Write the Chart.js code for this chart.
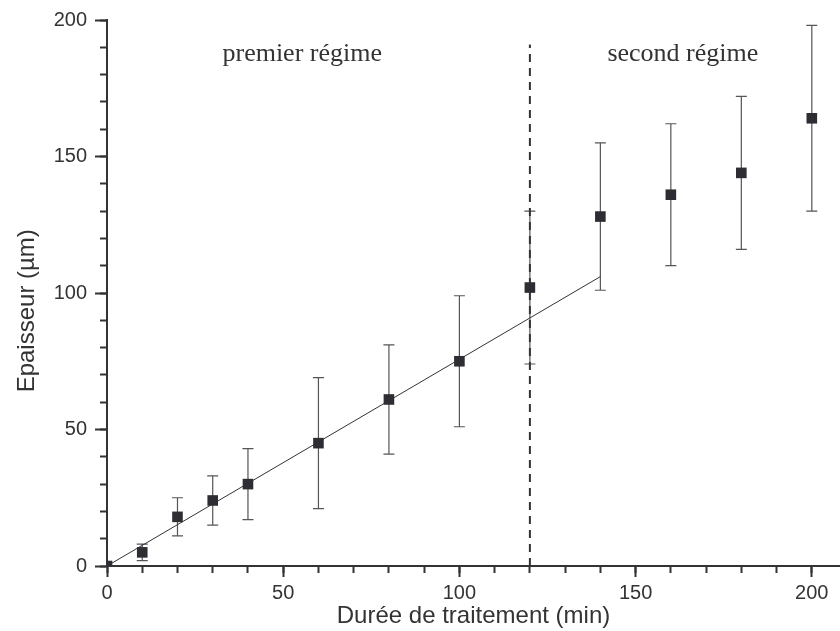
<!DOCTYPE html>
<html>
<head>
<meta charset="utf-8">
<script src="https://cdn.jsdelivr.net/npm/chart.js@4/dist/chart.umd.min.js"></script>
<style>
  body { margin: 0; background: #fff; }
  canvas { display: block; }
</style>
</head>
<body>
<canvas id="graphique" width="840" height="631"></canvas>
<script>
// durée (min) et épaisseur mesurée (µm)
const durees    = [0, 10, 20, 30, 40, 60, 80, 100, 120, 140, 160, 180, 200];
const epaisseur = [0, 5, 18, 24, 30, 45, 61, 75, 102, 128, 136, 144, 164];
const erreurBas  = [null, 2, 11, 15, 17, 21, 41, 51, 74, 101, 110, 116, 130];
const erreurHaut = [null, 8, 25, 33, 43, 69, 81, 99, 130, 155, 162, 172, 198];

// droite d'ajustement du premier régime
const ajustX = [0, 140];
const ajustY = [0, 106];

// limite entre les deux régimes
const limiteX = 120;
const limiteHaut = 191;

const regimes = ['premier régime', 'second régime'];
const regimesX = [55.4, 163.4];
const regimesY = 185;

const titreY = 'Epaisseur (µm)';
const titreYCentre = 93.5;

const gris = '#333333';

let pointsMesure = durees.map((d, i) => ({ x: d, y: epaisseur[i] }));
let pointsAjust = ajustX.map((d, i) => ({ x: d, y: ajustY[i] }));

const barresErreur = {
    id: 'barresErreur',
    beforeDatasetsDraw(chart) {
        const ctx = chart.ctx;
        const sx = chart.scales.x, sy = chart.scales.y;
        ctx.save();
        ctx.strokeStyle = '#555';
        ctx.lineWidth = 1.2;
        durees.forEach((d, i) => {
            if (erreurBas[i] === null) return;
            let px = sx.getPixelForValue(d);
            let y1 = sy.getPixelForValue(erreurBas[i]);
            let y2 = sy.getPixelForValue(erreurHaut[i]);
            ctx.beginPath();
            ctx.moveTo(px, y1); ctx.lineTo(px, y2);
            ctx.moveTo(px - 5.5, y1); ctx.lineTo(px + 5.5, y1);
            ctx.moveTo(px - 5.5, y2); ctx.lineTo(px + 5.5, y2);
            ctx.stroke();
        });
        ctx.restore();
    }
};

const etiquettes = {
    id: 'etiquettes',
    afterDraw(chart) {
        const ctx = chart.ctx;
        ctx.save();
        ctx.font = '26px "Liberation Serif", "Times New Roman", serif';
        ctx.fillStyle = gris;
        ctx.textAlign = 'center';
        ctx.textBaseline = 'alphabetic';
        regimes.forEach((t, i) => {
            ctx.fillText(t, chart.scales.x.getPixelForValue(regimesX[i]), chart.scales.y.getPixelForValue(regimesY));
        });
        // titre de l'axe vertical, un peu sous le milieu comme dans l'original
        ctx.font = '24px "Liberation Sans", Arial, sans-serif';
        ctx.textBaseline = 'middle';
        ctx.translate(chart.chartArea.left - 80, chart.scales.y.getPixelForValue(titreYCentre));
        ctx.rotate(-Math.PI / 2);
        ctx.fillText(titreY, 0, 0);
        ctx.restore();
    }
};

const police = { family: '"Liberation Sans", Arial, sans-serif', size: 20 };
const policeTitre = { family: '"Liberation Sans", Arial, sans-serif', size: 24 };

// on garde seulement les graduations rondes (pas la borne 208)
const graduations = pas => s => { s.ticks = s.ticks.filter(t => t.value % pas === 0); };

new Chart(document.getElementById('graphique'), {
    type: 'scatter',
    data: {
        datasets: [
            {
                data: pointsMesure,
                pointStyle: 'rect',
                pointRadius: 7.5,
                pointBackgroundColor: '#2d2d33',
                pointBorderWidth: 0,
                showLine: false,
                order: 0
            },
            {
                type: 'line',
                data: pointsAjust,
                borderColor: gris,
                borderWidth: 1,
                pointRadius: 0,
                order: 1
            },
            {
                type: 'line',
                data: [{ x: limiteX, y: 0 }, { x: limiteX, y: limiteHaut }],
                borderColor: gris,
                borderWidth: 2,
                borderDash: [8, 6],
                pointRadius: 0,
                order: 2
            }
        ]
    },
    options: {
        responsive: false,
        animation: false,
        layout: { autoPadding: false, padding: { top: 19, right: 0, left: 0, bottom: 0 } },
        plugins: { legend: { display: false }, tooltip: { enabled: false } },
        scales: {
            xMineur: {
                type: 'linear', position: 'bottom', weight: 0, bounds: 'data',
                min: 0, max: 208,
                afterBuildTicks: graduations(10),
                afterFit: s => { s.height = 0; },
                ticks: { display: false, stepSize: 10 },
                grid: { drawOnChartArea: false, tickLength: 7, tickWidth: 2, tickColor: gris },
                border: { display: false }
            },
            x: {
                type: 'linear', position: 'bottom', weight: 1, bounds: 'data',
                min: 0, max: 208,
                afterBuildTicks: graduations(50),
                afterFit: s => { s.height = 65; },
                ticks: { stepSize: 50, color: gris, font: police, padding: 4 },
                grid: { drawOnChartArea: false, tickLength: 11, tickWidth: 2, tickColor: gris },
                border: { color: gris, width: 2 },
                title: { display: true, text: 'Durée de traitement (min)', color: gris, font: policeTitre, padding: 0 }
            },
            yMineur: {
                type: 'linear', position: 'left', weight: 0,
                min: 0, max: 200,
                afterFit: s => { s.width = 0; },
                ticks: { display: false, stepSize: 10 },
                grid: { drawOnChartArea: false, tickLength: 7, tickWidth: 2, tickColor: gris },
                border: { display: false }
            },
            y: {
                type: 'linear', position: 'left', weight: 1,
                min: 0, max: 200,
                afterFit: s => { s.width = 107; },
                ticks: { stepSize: 50, color: gris, font: police, padding: 8 },
                grid: { drawOnChartArea: false, tickLength: 12, tickWidth: 2, tickColor: gris },
                border: { color: gris, width: 2 }
            }
        }
    },
    plugins: [barresErreur, etiquettes]
});
</script>
</body>
</html>
